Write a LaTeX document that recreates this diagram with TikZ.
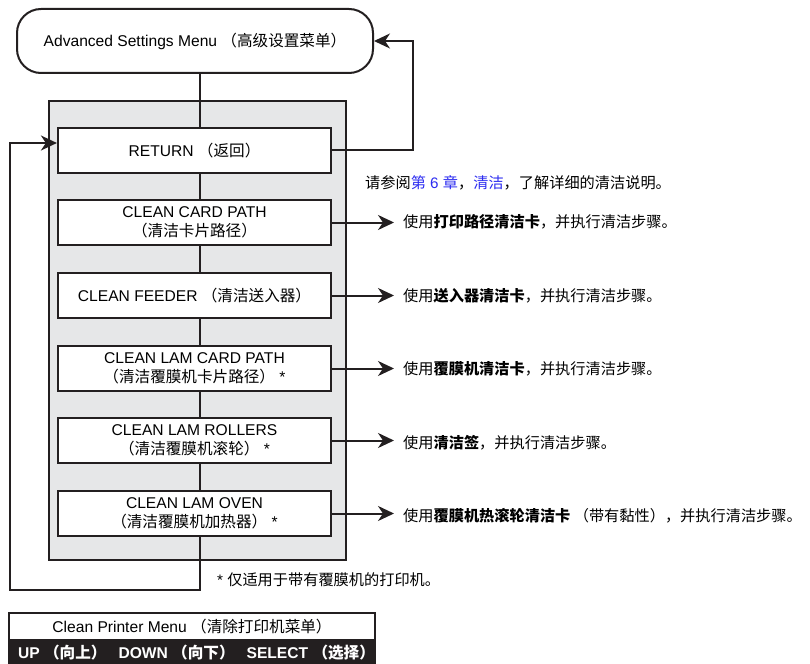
\documentclass[tikz,border=0pt]{standalone}
\usepackage{fontspec}
\setmainfont{Liberation Sans}
\newfontfamily\zhfont{Noto Sans CJK SC}
\newcommand{\zh}[1]{{\zhfont #1}}
\usetikzlibrary{arrows.meta,positioning,calc}
\definecolor{ink}{HTML}{231F20}
\definecolor{panelgray}{HTML}{E6E7E8}
\definecolor{linkblue}{HTML}{2B2BF0}
\tikzset{
  menubox/.style={draw=ink, line width=2pt, rounded corners=24pt,
    minimum width=356pt, minimum height=64pt, inner sep=0pt},
  itembox/.style={draw=ink, fill=white, line width=2.2pt, minimum width=273pt,
    minimum height=45pt, align=center, inner sep=0pt},
  link/.style={draw=ink, line width=2pt},
  arr/.style={link, -{Stealth[length=16pt,width=15pt,inset=5pt]}},
  note/.style={anchor=west, inner sep=0pt, font=\fontsize{15.2pt}{19pt}\selectfont},
}
\begin{document}
\begin{tikzpicture}[x=1pt, y=-1pt, font=\fontsize{15.6pt}{19.5pt}\selectfont]
        \useasboundingbox (0,0) rectangle (810,663);
        \coordinate (spine) at (200,0);
        \coordinate (rloop) at (413,0);
        \coordinate (lowleft) at (10,590);
        % grey panel behind the menu items
        \draw[ink, line width=2pt, fill=panelgray] (49,101) rectangle (346,560);
        \node[menubox] (menu) at (195,41) {Advanced Settings Menu \zh{（高级设置菜单）}};
        \node[itembox] (ret) at (194.5,150.5) {RETURN \zh{（返回）}};
        \node[itembox] (cpath) at (194.5,222.5) {CLEAN CARD PATH\\\zh{（清洁卡片路径）}};
        \node[itembox] (feed) at (194.5,295.5) {CLEAN FEEDER \zh{（清洁送入器）}};
        \node[itembox] (lcard) at (194.5,368.5) {CLEAN LAM CARD PATH\\\zh{（清洁覆膜机卡片路径）} *};
        \node[itembox] (lroll) at (194.5,440.5) {CLEAN LAM ROLLERS\\\zh{（清洁覆膜机滚轮）} *};
        \node[itembox] (loven) at (194.5,513.5) {CLEAN LAM OVEN\\\zh{（清洁覆膜机加热器）} *};
        \foreach \a/\b in {menu/ret, ret/cpath, cpath/feed, feed/lcard, lcard/lroll, lroll/loven}
          \draw[link] (\a.south -| spine) -- (\b.north -| spine);
        % loops back up
        \draw[arr] (loven.south -| spine) -- (spine |- lowleft) -- (lowleft)
          |- ([yshift=7.5pt]ret.west);
        \draw[arr] (ret.east) -- (ret.east -| rloop) |- (menu.east);
        % notes on the right
        \node[note] (see) at (365,183) {\zh{请参阅}\textcolor{linkblue}{\zh{第} 6 \zh{章}}\zh{，}\textcolor{linkblue}{\zh{清洁}}\zh{，了解详细的清洁说明。}};
        \node[note] (n1) at (403,222) {\zh{使用\textbf{打印路径清洁卡}，并执行清洁步骤。}};
        \node[note] (n2) at (403,296) {\zh{使用\textbf{送入器清洁卡}，并执行清洁步骤。}};
        \node[note] (n3) at (403,369) {\zh{使用\textbf{覆膜机清洁卡}，并执行清洁步骤。}};
        \node[note] (n4) at (403,443) {\zh{使用\textbf{清洁签}，并执行清洁步骤。}};
        \node[note] (n5) at (403,516) {\zh{使用\textbf{覆膜机热滚轮清洁卡} （带有黏性），并执行清洁步骤。}};
        \foreach \b/\n in {cpath/n1, feed/n2, lcard/n3, lroll/n4, loven/n5}
          \draw[arr] (\b.east) -- ($(\b.east -| \n.west)+(-9,0)$);
        \node[note] (foot) at (217,580) {* \zh{仅适用于带有覆膜机的打印机。}};
        % key legend
        \node[draw=ink, line width=2pt, minimum width=366pt, minimum height=27pt, inner sep=0pt]
          (cpm) at (192,626.5) {Clean Printer Menu \zh{（清除打印机菜单）}};
        \node[draw=ink, fill=ink, line width=2pt, minimum width=366pt, minimum height=21pt,
          inner sep=0pt, anchor=north, text=white, font=\fontsize{15.6pt}{19.5pt}\selectfont\bfseries]
          (keys) at (cpm.south) {\makebox[366pt][c]{\hspace*{9pt}UP \zh{（向上）}\hspace{12pt}DOWN \zh{（向下）}\hspace{12pt}SELECT \zh{（选择）}}};
        \end{tikzpicture}
\end{document}
